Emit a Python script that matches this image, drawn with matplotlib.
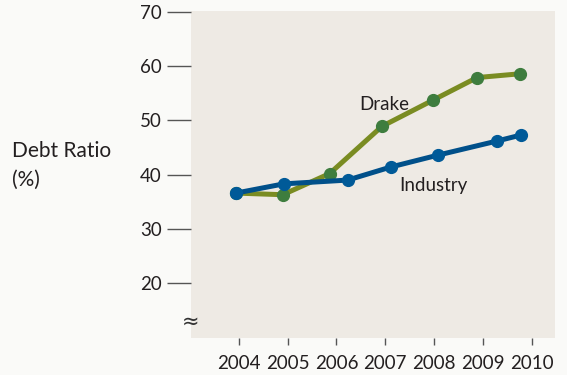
import matplotlib.pyplot as plt

# ====================== DATA ======================
years = [2004, 2005, 2006, 2007, 2008, 2009, 2010]
yticks = [20, 30, 40, 50, 60, 70]

drake_x = [2003.94, 2004.90, 2005.86, 2006.93, 2007.97, 2008.88, 2009.76]
drake_y = [36.6, 36.3, 40.2, 48.9, 53.7, 57.9, 58.6]

industry_x = [2003.94, 2004.92, 2006.23, 2007.11, 2008.08, 2009.29, 2009.78]
industry_y = [36.6, 38.3, 39.0, 41.4, 43.6, 46.2, 47.3]

# ====================== PLOT ======================
plt.rcParams['font.family'] = ['Lato', 'DejaVu Sans']
TXT = '#231f20'

fig = plt.figure(figsize=(5.67, 3.75), dpi=100, facecolor='#fafaf8')
ax = fig.add_axes([0.337, 0.099, 0.642, 0.872])
ax.set_facecolor('#eeeae4')

ax.plot(drake_x, drake_y, color='#7a8c22', lw=3.6, zorder=3,
        marker='o', ms=8.5, mfc='#3e7d3e', mec='#3e7d3e')
ax.plot(industry_x, industry_y, color='#00508a', lw=3.6, zorder=4,
        marker='o', ms=8.5, mfc='#005a98', mec='#005a98')

ax.text(2006.98, 53.0, "Drake", fontsize=13.5, color=TXT, ha='center', va='center')
ax.text(2007.98, 38.0, "Industry", fontsize=13.5, color=TXT, ha='center', va='center')

ax.set_xlim(2003.02, 2010.48)
ax.set_ylim(9.9, 70.2)
ax.set_xticks(years)
ax.set_yticks(yticks)
ax.tick_params(axis='y', direction='out', length=17, width=1, color='#555555',
               labelsize=13.5, pad=4, labelcolor=TXT)
ax.tick_params(axis='x', direction='out', length=5, width=1, color='#555555',
               labelsize=13.5, pad=7, labelcolor=TXT)
for s in ax.spines.values():
    s.set_visible(False)

fig.text(12 / 567, 1 - 151 / 375, "Debt Ratio", fontsize=15, color=TXT, va='center')
fig.text(12 / 567, 1 - 180 / 375, "(%)", fontsize=15, color=TXT, va='center')
fig.text(182 / 567, 1 - 322 / 375, "≈", fontsize=15, color='#333333', va='center',
         family='DejaVu Sans')

fig.savefig('out.png', dpi=100, facecolor=fig.get_facecolor())
